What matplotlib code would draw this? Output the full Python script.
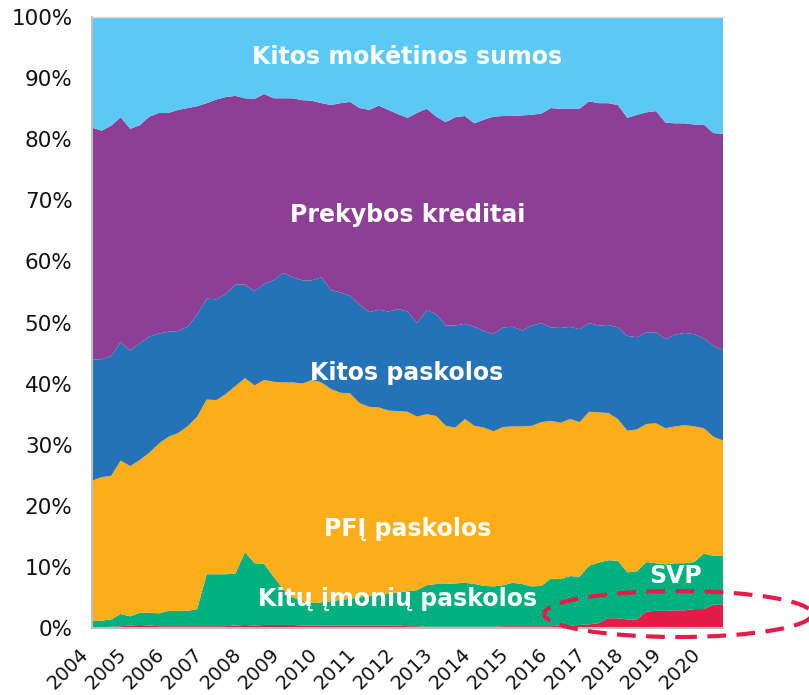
import matplotlib
matplotlib.use("Agg")
import matplotlib.pyplot as plt
import matplotlib.transforms as mtransforms
from matplotlib.patches import Ellipse
import numpy as np
import pandas as pd


OUT_PATH = "out.png"

# ketvirčiai 2004Q1 - 2020Q3
quarters = pd.period_range("2004Q1", "2020Q3", freq="Q")

# įsipareigojimų struktūra, proc.
svp = [
	0.1, 0.1, 0.2, 0.3, 0.4, 0.5, 0.4, 0.3, 0.3, 0.3,
	0.3, 0.3, 0.3, 0.3, 0.3, 0.4, 0.5, 0.4, 0.5, 0.5,
	0.5, 0.5, 0.4, 0.4, 0.4, 0.4, 0.4, 0.4, 0.4, 0.4,
	0.4, 0.4, 0.4, 0.3, 0.3, 0.2, 0.2, 0.2, 0.2, 0.2,
	0.2, 0.2, 0.2, 0.3, 0.3, 0.3, 0.3, 0.3, 0.3, 0.4,
	0.4, 0.5, 0.6, 0.8, 1.6, 1.6, 1.4, 1.4, 2.7, 2.8,
	2.8, 2.9, 2.9, 3.1, 3.1, 3.8, 3.9,
]
kitu_imoniu = [
	1.1, 1.1, 1.2, 2.0, 1.5, 2.0, 2.1, 2.1, 2.5, 2.5,
	2.5, 2.8, 8.5, 8.5, 8.5, 8.5, 11.9, 10.2, 10.0, 7.9,
	5.8, 4.5, 4.0, 3.7, 3.8, 4.0, 4.2, 4.4, 4.6, 4.8,
	5.0, 5.2, 5.4, 5.7, 5.9, 6.8, 7.0, 7.0, 7.1, 7.2,
	7.0, 6.7, 6.6, 6.7, 7.1, 6.9, 6.5, 6.6, 7.8, 7.6,
	8.1, 7.9, 9.6, 9.9, 9.5, 9.4, 7.7, 7.9, 8.1, 7.8,
	7.6, 7.7, 7.7, 7.7, 9.1, 8.0, 7.9,
]
pfi = [
	22.9, 23.5, 23.5, 25.1, 24.6, 25.0, 26.2, 27.8, 28.5, 29.1,
	30.2, 31.5, 28.6, 28.5, 29.5, 30.7, 28.5, 29.1, 30.1, 31.9,
	33.9, 35.2, 35.6, 36.5, 36.0, 34.7, 33.9, 33.6, 31.8, 31.0,
	30.7, 30.0, 29.7, 29.4, 28.4, 28.0, 27.5, 25.9, 25.5, 26.8,
	25.9, 25.9, 25.4, 25.9, 25.6, 25.8, 26.3, 26.8, 25.8, 25.6,
	25.7, 25.3, 25.2, 24.6, 24.1, 23.2, 23.2, 23.2, 22.6, 22.9,
	22.3, 22.4, 22.6, 22.2, 20.5, 19.5, 18.9,
]
kitos_paskolos = [
	19.8, 19.3, 19.6, 19.4, 18.9, 19.1, 19.0, 18.0, 17.2, 16.7,
	16.3, 16.7, 16.5, 16.5, 16.4, 16.6, 15.3, 15.4, 15.7, 16.6,
	17.9, 17.2, 16.9, 16.3, 17.2, 16.2, 16.4, 16.0, 16.1, 15.5,
	16.0, 16.2, 16.7, 16.4, 15.3, 17.0, 16.7, 16.4, 16.7, 15.6,
	16.2, 15.8, 15.9, 16.3, 16.3, 15.7, 16.4, 16.2, 15.3, 15.5,
	15.1, 15.2, 14.5, 14.2, 14.4, 15.0, 15.5, 15.1, 15.0, 14.9,
	14.6, 15.0, 15.1, 15.1, 14.7, 14.9, 14.8,
]
prekybos_kreditai = [
	38.0, 37.4, 37.7, 36.8, 36.3, 35.7, 36.0, 36.1, 35.8, 36.2,
	35.8, 34.1, 32.0, 32.7, 32.2, 30.9, 30.5, 31.5, 31.1, 29.8,
	28.6, 29.3, 29.5, 29.4, 28.5, 30.3, 31.0, 31.7, 32.2, 33.1,
	33.4, 33.0, 31.9, 31.7, 34.4, 33.0, 32.3, 33.3, 34.1, 34.0,
	33.3, 34.6, 35.6, 34.6, 34.5, 35.2, 34.5, 34.3, 35.9, 35.9,
	35.7, 36.1, 36.3, 36.4, 36.3, 36.4, 35.7, 36.4, 36.0, 36.2,
	35.4, 34.6, 34.3, 34.3, 35.0, 34.8, 35.4,
]
kitos_moketinos = [
	18.1, 18.6, 17.8, 16.4, 18.3, 17.7, 16.3, 15.7, 15.7, 15.2,
	14.9, 14.6, 14.1, 13.5, 13.1, 12.9, 13.3, 13.4, 12.6, 13.3,
	13.3, 13.3, 13.6, 13.7, 14.1, 14.4, 14.1, 13.9, 14.9, 15.2,
	14.5, 15.2, 15.9, 16.5, 15.7, 15.0, 16.3, 17.2, 16.4, 16.2,
	17.4, 16.8, 16.3, 16.2, 16.2, 16.1, 16.0, 15.8, 14.9, 15.0,
	15.0, 15.0, 13.8, 14.1, 14.1, 14.4, 16.5, 16.0, 15.6, 15.4,
	17.3, 17.4, 17.4, 17.6, 17.6, 19.0, 19.1,
]

COLORS = ["#E31D48", "#00B07E", "#FBAE19", "#2472B8", "#8C3F95", "#5BC9F4"]


def draw_chart():
	fig = plt.figure(figsize=(8.09, 6.95), dpi=100)
	ax = fig.add_axes([0.1137, 0.0964, 0.78, 0.8791])

	x = np.arange(len(quarters))
	ax.stackplot(
		x,
		svp, kitu_imoniu, pfi, kitos_paskolos, prekybos_kreditai, kitos_moketinos,
		colors=COLORS,
		linewidth=0,
	)
	ax.set_xlim(x[0], x[-1])
	ax.set_ylim(0, 100)

	# metų žymos kas 4 ketvirčius
	year_idx = [i for i, q in enumerate(quarters) if q.quarter == 1]
	ax.set_xticks(year_idx)
	ax.set_xticklabels([str(quarters[i].year) for i in year_idx], rotation=45, ha="right")
	offset = mtransforms.ScaledTranslation(5 / 100, 0, fig.dpi_scale_trans)
	for lab in ax.get_xticklabels():
		lab.set_transform(lab.get_transform() + offset)
	ax.set_yticks(np.arange(0, 101, 10))
	ax.set_yticklabels([f"{v}%" for v in range(0, 101, 10)])
	ax.tick_params(axis="x", length=0, pad=12, labelsize=14, colors="#111111")
	ax.tick_params(axis="y", length=0, pad=14, labelsize=15.5, colors="#111111")

	ax.spines["right"].set_visible(False)
	ax.spines["top"].set_color("#DDDDDD")
	ax.spines["top"].set_linewidth(1)
	for side in ["left", "bottom"]:
		ax.spines[side].set_color("#BFBFBF")
		ax.spines[side].set_linewidth(1.5)

	labels = [
		("Kitos mokėtinos sumos", 0.500, 0.9226),
		("Prekybos kreditai", 0.501, 0.665),
		("Kitos paskolos", 0.498, 0.406),
		("PFĮ paskolos", 0.501, 0.150),
		("Kitų įmonių paskolos", 0.484, 0.036),
		("SVP", 0.9255, 0.0741),
	]
	for text, tx, ty in labels:
		ax.text(tx, ty, text, transform=ax.transAxes, ha="center", va="baseline",
			color="white", fontsize=17, fontweight="bold")

	# SVP paryškinimas
	ell = Ellipse((0.929, 0.0229), 0.4247, 0.0753, transform=ax.transAxes,
		fill=False, edgecolor="#E31D48", linewidth=3, linestyle=(0, (4.5, 2.5)),
		clip_on=False, zorder=5)
	ax.add_patch(ell)

	fig.savefig(OUT_PATH, dpi=100)
	plt.close(fig)


def main():
	plt.rcParams["font.family"] = ["DejaVu Sans"]
	draw_chart()


if __name__ == "__main__":
	main()
